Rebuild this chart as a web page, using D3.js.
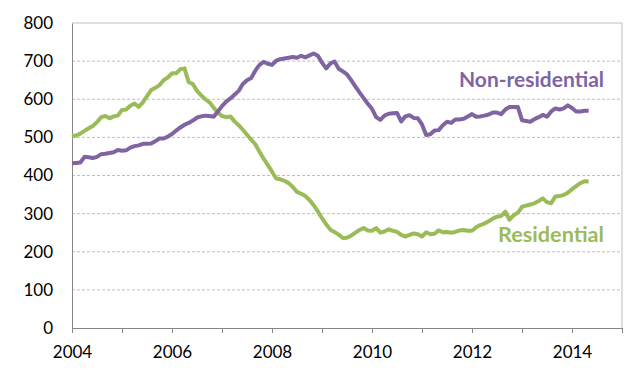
<!DOCTYPE html>
<html>
<head>
<meta charset="utf-8">
<script src="https://cdn.jsdelivr.net/npm/d3@7"></script>
<style>
  body { margin: 0; background: #fff; }
  svg text { font-family: Lato, "Open Sans", sans-serif; }
</style>
</head>
<body>
<div id="chart"></div>
<script>
// monthly values, Jan 2004 onward
const startYear = 2004
const residential = [
  503, 505, 510, 517, 524, 530, 540, 553, 556, 550, 555, 557,
  572, 573, 583, 589, 580, 592, 608, 624, 630, 637, 650, 657,
  668, 668, 679, 681, 645, 640, 622, 610, 600, 592, 578, 565,
  556, 553, 555, 542, 532, 520, 507, 494, 482, 462, 444, 427,
  410, 392, 390, 386, 380, 370, 357, 352, 346, 336, 322, 306,
  288, 272, 258, 252, 245, 236, 237, 242, 250, 257, 262, 256,
  255, 262, 250, 253, 259, 255, 252, 244, 240, 244, 248, 246,
  240, 251, 246, 247, 256, 251, 252, 250, 252, 256, 257, 255,
  255, 264, 270, 274, 280, 287, 292, 294, 305, 284, 296, 302,
  318, 321, 324, 327, 333, 340, 330, 327, 345, 346, 349, 355,
  364, 372, 380, 385, 384
]
const nonResidential = [
  432, 433, 434, 449, 448, 446, 449, 456, 457, 459, 461, 467,
  465, 466, 473, 477, 479, 483, 483, 484, 490, 497, 497, 502,
  509, 518, 526, 533, 538, 544, 552, 555, 557, 556, 554, 568,
  582, 594, 602, 612, 622, 640, 650, 656, 675, 690, 698, 693,
  690, 701, 705, 707, 709, 711, 709, 714, 710, 715, 720, 714,
  696, 681, 694, 699, 680, 673, 665, 650, 634, 618, 603, 588,
  575, 553, 546, 557, 562, 563, 564, 542, 555, 558, 551, 550,
  534, 506, 508, 518, 519, 532, 541, 538, 547, 547, 549, 555,
  561, 554, 555, 557, 560, 565, 565, 561, 573, 580, 580, 580,
  545, 543, 541, 548, 553, 559, 554, 568, 576, 573, 576, 584,
  577, 568, 568, 570, 570
]
const yTicks = [0, 100, 200, 300, 400, 500, 600, 700, 800]
const xTicks = [2004, 2005, 2006, 2007, 2008, 2009, 2010, 2011, 2012, 2013, 2014, 2015]
const xLabels = [2004, 2006, 2008, 2010, 2012, 2014]

const W = 644
const H = 370
const margin = { top: 23, right: 22, bottom: 42, left: 72 }
const width = W - margin.left - margin.right
const height = H - margin.top - margin.bottom

const svg = d3.select('#chart').append('svg')
  .attr('width', W)
  .attr('height', H)

const g = svg.append('g')
  .attr('transform', `translate(${margin.left},${margin.top})`)

const x = d3.scaleLinear().domain([2004, 2015]).range([0, width])
const y = d3.scaleLinear().domain([0, 800]).range([height, 0])

// gridlines
g.selectAll('line.grid')
  .data(yTicks.filter(d => d > 0 && d < 800))
  .enter().append('line')
  .attr('class', 'grid')
  .attr('x1', 0).attr('x2', width)
  .attr('y1', d => y(d)).attr('y2', d => y(d))
  .attr('stroke', '#bfbfbf')
  .attr('stroke-dasharray', '3,2')

// top and right border
g.append('path')
  .attr('d', `M0,${y(800)}H${width}V${height}`)
  .attr('fill', 'none')
  .attr('stroke', '#bfbfbf')

// y axis
const yAxis = g.append('g')
  .call(d3.axisLeft(y).tickValues(yTicks).tickSize(0).tickPadding(19))
yAxis.select('.domain').attr('stroke', '#868686')
yAxis.selectAll('text').attr('font-size', 17).attr('fill', '#000')

// x axis
const xAxis = g.append('g')
  .attr('transform', `translate(0,${height})`)
  .call(d3.axisBottom(x).tickValues(xTicks).tickSize(5).tickPadding(13)
    .tickFormat(d => xLabels.includes(d) ? d : ''))
xAxis.select('.domain').attr('stroke', '#868686')
xAxis.selectAll('line').attr('stroke', '#868686')
xAxis.selectAll('text').attr('font-size', 17).attr('fill', '#000')

// lines
const line = d3.line()
  .x((d, i) => x(startYear + i / 12))
  .y(d => y(d))

g.append('path')
  .datum(residential)
  .attr('d', line)
  .attr('fill', 'none')
  .attr('stroke', '#9bbb59')
  .attr('stroke-width', 4)
  .attr('stroke-linejoin', 'round')

g.append('path')
  .datum(nonResidential)
  .attr('d', line)
  .attr('fill', 'none')
  .attr('stroke', '#8064a2')
  .attr('stroke-width', 4)
  .attr('stroke-linejoin', 'round')

// series labels
svg.append('text')
  .attr('x', 459).attr('y', 87)
  .attr('font-size', 20).attr('font-weight', 'bold')
  .attr('textLength', 145).attr('lengthAdjust', 'spacingAndGlyphs')
  .attr('fill', '#8064a2')
  .text('Non-residential')

svg.append('text')
  .attr('x', 498).attr('y', 242)
  .attr('font-size', 20).attr('font-weight', 'bold')
  .attr('textLength', 106).attr('lengthAdjust', 'spacingAndGlyphs')
  .attr('fill', '#9bbb59')
  .text('Residential')
</script>
</body>
</html>
